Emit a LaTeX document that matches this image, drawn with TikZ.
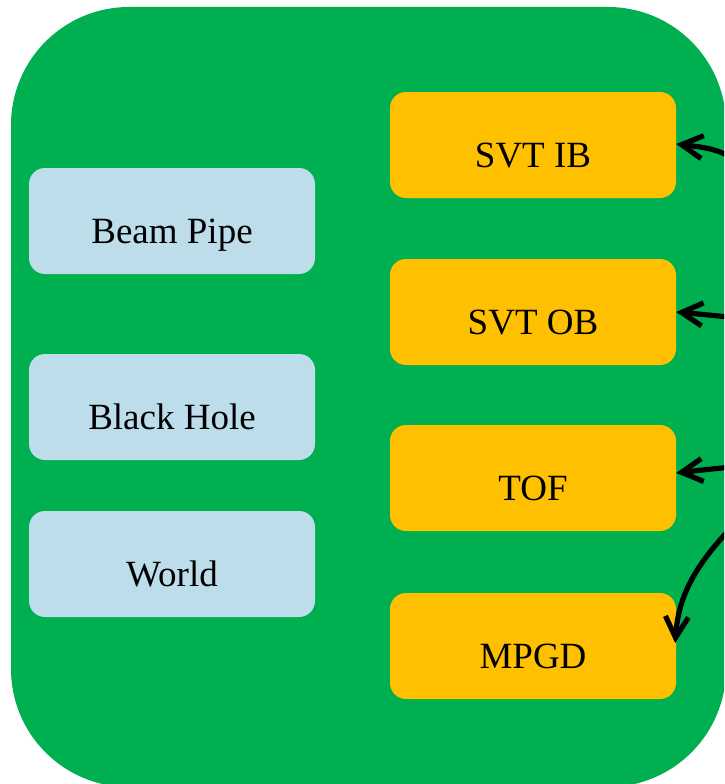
\documentclass[tikz,border=0pt]{standalone}
\usepackage{fontspec}
\setmainfont{Liberation Serif}
\usetikzlibrary{arrows.meta}
\definecolor{panelgreen}{RGB}{0,176,80}
\definecolor{detyellow}{RGB}{255,192,0}
\definecolor{volblue}{RGB}{189,221,235}
\tikzset{
  box/.style={rounded corners=16pt, minimum width=286pt, minimum height=106pt,
    inner sep=0pt, font=\fontsize{37}{41}\selectfont, text height=49pt, text depth=4pt},
  volbox/.style={box, fill=volblue},
  detbox/.style={box, fill=detyellow},
  link/.style={line width=5.2pt, line cap=round, line join=round,
    -{Straight Barb[length=21pt,width=23pt,line width=5.2pt]}}
}
\begin{document}
\begin{tikzpicture}[x=1pt,y=-1pt]
  \useasboundingbox (0,0) rectangle (724,784);
  \clip (0,0) rectangle (724,784);
  % outer panel
  \fill[panelgreen, rounded corners=118pt] (11,7) rectangle (726,787);
  % world volumes
  \node[volbox] (beampipe) at (172,221) {Beam Pipe};
  \node[volbox] (blackhole) at (172,407) {Black Hole};
  \node[volbox] (world) at (172,564) {World};
  % detector volumes
  \node[detbox] (svtib) at (533,145) {SVT IB};
  \node[detbox] (svtob) at (533,312) {SVT OB};
  \node[detbox] (tof) at (533,478) {TOF};
  \node[detbox] (mpgd) at (533,646) {MPGD};
  % sources to the right of the panel
  \coordinate (s1) at (770,178);
  \coordinate (s2) at (770,322);
  \coordinate (s3) at (770,464);
  \coordinate (s4) at (752,508);
  \draw[link] (s1) .. controls (718,149) .. ([yshift=1pt]svtib.east);
  \draw[link] (s2) .. controls (720,316) .. (svtob.east);
  \draw[link] (s3) .. controls (720,468) .. ([yshift=5pt]tof.east);
  \draw[link] (s4) .. controls (692,562) and (678,600) .. ([xshift=-1pt,yshift=3pt]mpgd.east);
\end{tikzpicture}
\end{document}
